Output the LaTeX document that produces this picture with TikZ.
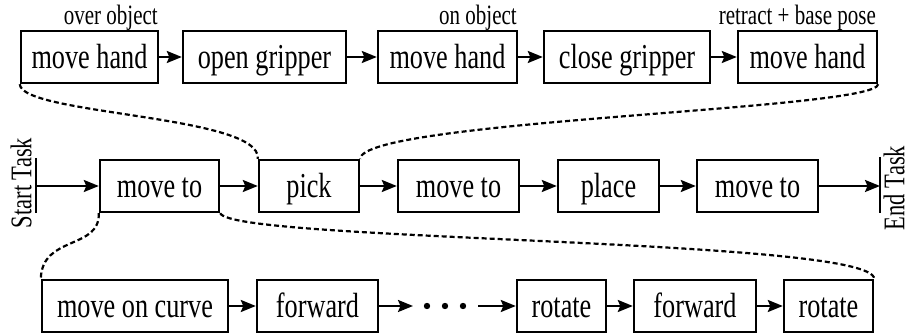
\documentclass[tikz,border=0pt]{standalone}
\usepackage{fontspec}
\setmainfont[FakeStretch=0.75]{Liberation Serif}
\usetikzlibrary{arrows.meta}
\begin{document}
\begin{tikzpicture}[x=1pt,y=-1pt,
  box/.style={draw, line width=2.4pt, minimum height=52pt, inner sep=0pt,
    font=\fontsize{35}{38}\selectfont, text height=24pt, text depth=0pt},
  arr/.style={-{Stealth[length=15pt,width=12pt,inset=2.5pt]}, line width=2.2pt},
  dsh/.style={dash pattern=on 5pt off 3pt, line width=2.2pt},
  lbl/.style={font=\fontsize{28}{30}\selectfont, anchor=base east, inner sep=0pt},
  vtxt/.style={rotate=90, font=\fontsize{30}{33}\selectfont, inner sep=0pt},
  bar/.style={line width=2.6pt}]
\fill[white] (0,0) rectangle (906,336);
\useasboundingbox (0,0) rectangle (906,336);
% top row
\node[box, minimum width=137pt] (th1) at (89.5,57) {move hand};
\node[box, minimum width=163pt] (tg1) at (264.5,57) {open gripper};
\node[box, minimum width=139pt] (th2) at (447.5,57) {move hand};
\node[box, minimum width=166pt] (tg2) at (627,57) {close gripper};
\node[box, minimum width=139pt] (th3) at (807.5,57) {move hand};
\node[lbl] (l1) at (158,25) {over object};
\node[lbl] (l2) at (517,25) {on object};
\node[lbl] (l3) at (876,25) {retract + base pose};
\draw[arr] (th1) -- (tg1);
\draw[arr] (tg1) -- (th2);
\draw[arr] (th2) -- (tg2);
\draw[arr] (tg2) -- (th3);
% middle row
\coordinate (sb) at (36,186);
\coordinate (eb) at (880,186);
\draw[bar] (36,158) -- (36,213);
\draw[bar] (880,157) -- (880,213);
\node[vtxt] (st) at (21,183) {Start Task};
\node[vtxt] (et) at (894,188) {End Task};
\node[box, minimum width=119pt] (m1) at (159.5,186) {move to};
\node[box, minimum width=100pt] (pk) at (309,186) {pick};
\node[box, minimum width=121pt] (m2) at (458.5,186) {move to};
\node[box, minimum width=101pt] (pl) at (608.5,186) {place};
\node[box, minimum width=121pt] (m3) at (757.5,186) {move to};
\draw[arr] (sb) -- (m1);
\draw[arr] (m1) -- (pk);
\draw[arr] (pk) -- (m2);
\draw[arr] (m2) -- (pl);
\draw[arr] (pl) -- (m3);
\draw[arr] (m3) -- (eb);
% bottom row
\node[box, minimum width=186pt] (mc) at (135,306) {move on curve};
\node[box, minimum width=121pt] (f1) at (317.5,306) {forward};
\node[box, minimum width=89pt] (r1) at (561.5,306) {rotate};
\node[box, minimum width=122pt] (f2) at (695,306) {forward};
\node[box, minimum width=89pt] (r2) at (828.5,306) {rotate};
\coordinate (d1) at (413,306);
\coordinate (d2) at (478,306);
\fill (427,306) circle (3.2pt) (445,306) circle (3.2pt) (463,306) circle (3.2pt);
\draw[arr] (mc) -- (f1);
\draw[arr] (f1) -- (d1);
\draw[arr] (d2) -- (r1);
\draw[arr] (r1) -- (f2);
\draw[arr] (f2) -- (r2);
% dashed expansions
\draw[dsh] (th1.south west) .. controls (21,115) and (262,115) .. (pk.north west);
\draw[dsh] (th3.south east) .. controls (877,110) and (362,120) .. (pk.north east);
\draw[dsh] (m1.south west) .. controls (100,250) and (42,235) .. (mc.north west);
\draw[dsh] (m1.south east) .. controls (232,242) and (873,238) .. (r2.north east);
\end{tikzpicture}
\end{document}
